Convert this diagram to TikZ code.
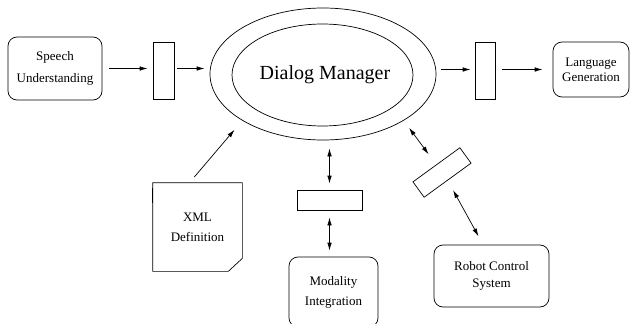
\documentclass[tikz,border=0pt]{standalone}
\usepackage{fontspec}
\setmainfont{Liberation Serif}
\usetikzlibrary{arrows.meta, shapes.geometric}

\begin{document}
\begin{tikzpicture}[x=1pt, y=-1pt, line width=0.7pt,
  >={Latex[length=8pt,width=4.5pt]},
  box/.style={draw, rounded corners=9pt, align=center, inner sep=0pt, font=\fontsize{13}{20}\selectfont},
  buf/.style={draw, inner sep=0pt},
  arr/.style={->},
  darr/.style={<->}]
\useasboundingbox (0,0) rectangle (630,324);
\clip (0,0) rectangle (630,324);

% Dialog Manager (zwei Ellipsen)
\node[draw, ellipse, minimum width=226pt, minimum height=132pt] (dmo) at (323,74) {};
\node[draw, ellipse, minimum width=181pt, minimum height=102pt] (dm) at (322.5,75) {};
\node[font=\fontsize{20}{24}\selectfont] (dmt) at (325,75) {Dialog Manager};

% Ein- und Ausgabe
\node[box, minimum width=94pt, minimum height=63pt, font=\fontsize{13}{22}\selectfont] (su) at (55,68.5) {Speech\\Understanding};
\node[buf, minimum width=21pt, minimum height=57pt] (buf1) at (163.5,70.5) {};
\node[buf, minimum width=20pt, minimum height=57pt] (buf2) at (485,70.5) {};
\node[box, minimum width=76pt, minimum height=55pt, font=\fontsize{13}{15}\selectfont] (lg) at (591,69.5) {Language\\Generation};

% XML-Dokument
\node[align=center, inner sep=0pt, minimum width=89pt, minimum height=88pt, font=\fontsize{13}{20}\selectfont] (xml) at (197.5,227) {XML\\Definition};
\draw (xml.north west) -- (xml.north east) -- ([yshift=13pt]xml.south east)
  -- ([xshift=-14pt]xml.south east) -- (xml.south west) -- cycle;
\draw[line width=1.4pt] ([yshift=-5pt]xml.north west) -- ([yshift=-20pt]xml.north west);

% Modality / Robot
\node[buf, minimum width=65pt, minimum height=20pt] (buf3) at (329.5,200) {};
\node[box, minimum width=89pt, minimum height=70pt] (mi) at (333.5,292) {Modality\\Integration};
\node[buf, minimum width=58pt, minimum height=19pt, rotate=36] (buf4) at (442,172.5) {};
\node[box, minimum width=115pt, minimum height=62pt, font=\fontsize{13}{17}\selectfont] (rc) at (491.5,276) {Robot Control\\System};

% Pfeile
\draw[arr, shorten <=7pt, shorten >=5pt] (su.east) -- (su.east -| buf1.west);
\draw[arr, shorten <=3pt, shorten >=5pt] (su.east -| buf1.east) -- (su.east -| dmo.west);
\draw[arr, shorten <=5pt, shorten >=4pt] (lg.west -| dmo.east) -- (lg.west -| buf2.west);
\draw[arr, shorten <=7pt, shorten >=10pt] (lg.west -| buf2.east) -- (lg.west);
\draw[arr, shorten <=7.5pt, shorten >=12pt] ([xshift=-8pt]xml.north) -- (dmo.210);
\draw[darr, shorten <=6pt, shorten >=8pt] (buf3.north) -- (buf3.north |- dmo.south);
\draw[darr, shorten <=7pt, shorten >=6pt] (buf3.south) -- (buf3.south |- mi.north);
\draw[darr, shorten <=12.8pt, shorten >=9pt] (buf4.north) -- (dmo.330);
\draw[darr, shorten <=11pt, shorten >=9.5pt] (buf4.south) -- (rc.105);
\end{tikzpicture}
\end{document}
